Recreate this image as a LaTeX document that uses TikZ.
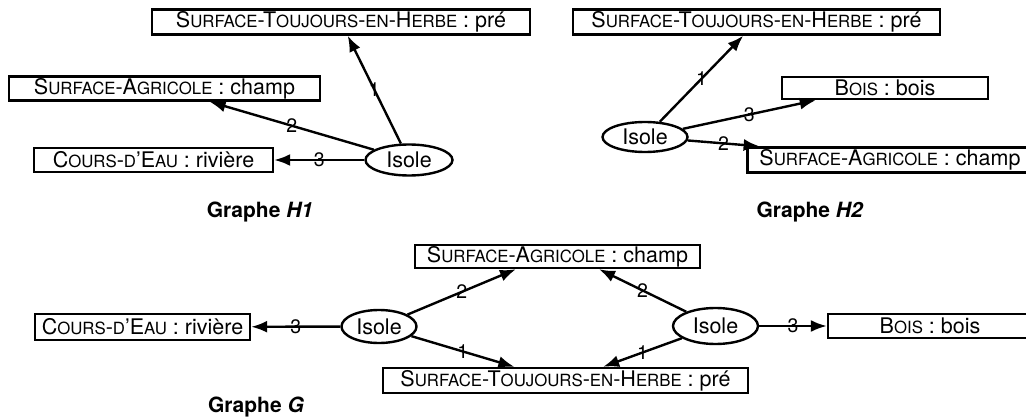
\documentclass[tikz,border=0pt]{standalone}
\usepackage{fontspec}
\setmainfont{TeX Gyre Heros}
\usetikzlibrary{shapes.geometric,arrows.meta}

\newcommand{\pc}[1]{{\fontsize{16.8}{16.8}\selectfont\MakeUppercase{#1}}}
\newcommand{\nomHerbe}{S\pc{urface}-T\pc{oujours}-\pc{en}-H\pc{erbe}}
\newcommand{\nomAgri}{S\pc{urface}-A\pc{gricole}}
\newcommand{\nomCours}{C\pc{ours}-\pc{d}'E\pc{au}}
\newcommand{\nomBois}{B\pc{ois}}

\tikzset{
	boite/.style={draw, line width=2.4pt, inner sep=0pt, minimum height=24pt},
	isole/.style={draw, ellipse, line width=2.4pt, inner sep=0pt},
	lien/.style={line width=2.4pt, -{Latex[length=16pt,width=12pt]}},
	rang/.style={font=\fontsize{19.5}{19.5}\selectfont, inner sep=0pt},
	titre/.style={font=\fontsize{21}{24}\selectfont\bfseries},
}

\begin{document}
\begin{tikzpicture}[x=1pt, y=-1pt, font=\fontsize{21.5}{24}\selectfont]
	\useasboundingbox (0,0) rectangle (1026,417);

	% graphe H1
	\node[boite, minimum width=378pt, minimum height=25pt] (h1pre) at (341,22) {\nomHerbe{} : pré};
	\node[boite, minimum width=311pt] (h1agri) at (164.5,88.5) {\nomAgri{} : champ};
	\node[boite, minimum width=239pt] (h1cours) at (153.5,160) {\nomCours{} : rivière};
	\node[isole, minimum width=87pt, minimum height=31pt] (h1isole) at (409,160) {Isole};

	\draw[lien] (h1isole) -- node[rang] {1} (h1pre);
	\draw[lien] (h1isole) -- node[rang] {2} (h1agri);
	\draw[lien] (h1isole) -- node[rang] {3} (h1cours);

	\node[titre] (cap1) at (260,212) {Graphe \textit{H1}};

	% graphe H2
	\node[boite, minimum width=367pt, minimum height=25pt] (h2pre) at (756.5,22) {\nomHerbe{} : pré};
	\node[boite, minimum width=206pt, minimum height=22pt] (h2bois) at (885,88) {\nomBois{} : bois};
	\node[boite, minimum width=285pt, minimum height=25pt] (h2agri) at (890,160) {\nomAgri{} : champ};
	\node[isole, minimum width=85pt, minimum height=30pt] (h2isole) at (645,137) {Isole};

	\draw[lien] (h2isole) -- node[rang] {1} (h2pre);
	\draw[lien] (h2isole) -- node[rang] {3} (h2bois.190);
	\draw[lien] (h2isole) -- node[rang] {2} (h2agri.174);

	\node[titre] (cap2) at (810,212) {Graphe \textit{H2}};

	% graphe G
	\node[boite, minimum width=285pt, minimum height=23pt] (gagri) at (557.5,256.5) {\nomAgri{} : champ};
	\node[boite, minimum width=365pt, minimum height=25pt] (gpre) at (565.5,380.5) {\nomHerbe{} : pré};
	\node[boite, minimum width=215pt, minimum height=26pt] (gcours) at (142.5,327) {\nomCours{} : rivière};
	\node[boite, minimum width=204pt] (gbois) at (930,326) {\nomBois{} : bois};
	\node[isole, minimum width=75pt, minimum height=33pt] (gisolea) at (379,326.5) {Isole};
	\node[isole, minimum width=85pt, minimum height=36pt] (gisoleb) at (715.5,326) {Isole};

	\draw[lien] (gisolea) -- node[rang] {3} (gcours);
	\draw[lien] (gisolea) -- node[rang] {2} (gagri.197);
	\draw[lien] (gisolea) -- node[rang] {1} (gpre.165);
	\draw[lien] (gisoleb) -- node[rang] {2} (gagri.343);
	\draw[lien] (gisoleb) -- node[rang] {1} (gpre.20);
	\draw[lien] (gisoleb) -- node[rang] {3} (gbois);

	\node[titre] (cap3) at (256,407) {Graphe \textit{G}};
\end{tikzpicture}
\end{document}
